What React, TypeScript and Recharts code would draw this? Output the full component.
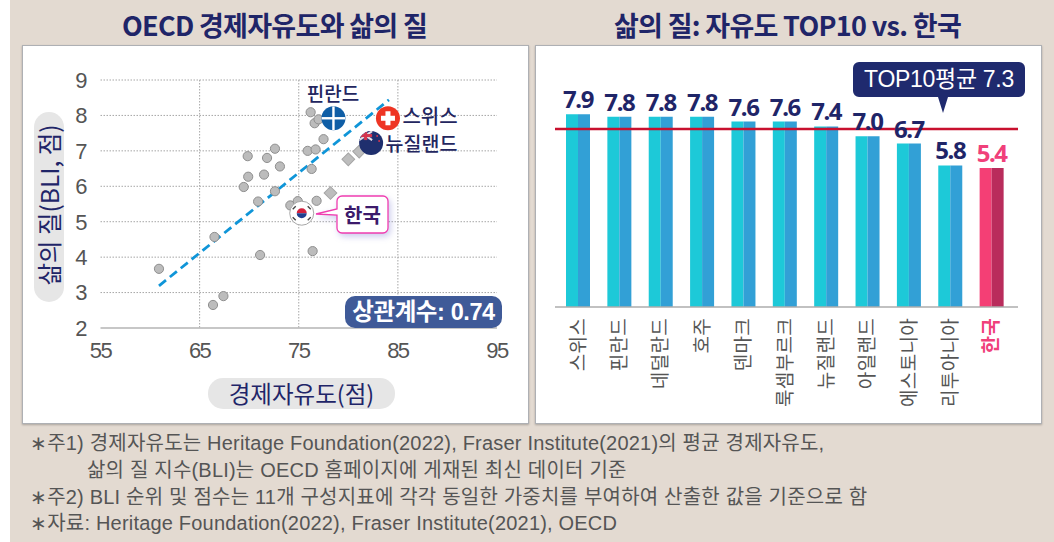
import React from 'react';
import {
  ScatterChart, Scatter, BarChart, Bar, XAxis, YAxis, CartesianGrid, Cell,
  LabelList, ReferenceLine,
} from 'recharts';

// 왼쪽 산점도
const dotPoints = [
  { x: 60.9, y: 3.67 }, { x: 66.5, y: 4.57 }, { x: 66.35, y: 2.65 }, { x: 67.4, y: 2.9 },
  { x: 69.45, y: 5.98 }, { x: 69.85, y: 6.85 }, { x: 69.9, y: 6.27 }, { x: 70.9, y: 5.57 },
  { x: 71.1, y: 4.06 }, { x: 71.5, y: 6.33 }, { x: 71.8, y: 6.8 }, { x: 72.6, y: 7.06 },
  { x: 72.6, y: 5.86 }, { x: 73.1, y: 6.56 }, { x: 74.15, y: 5.46 }, { x: 74.9, y: 5.58 },
  { x: 75.9, y: 7.0 }, { x: 76.2, y: 8.09 }, { x: 76.3, y: 6.49 }, { x: 76.4, y: 4.17 },
  { x: 76.6, y: 7.78 }, { x: 76.7, y: 7.04 }, { x: 76.8, y: 5.59 }, { x: 77.0, y: 7.89 },
  { x: 77.5, y: 7.33 },
];
const diamondPoints = [{ x: 78.2, y: 5.81 }, { x: 80.0, y: 6.76 }, { x: 81.1, y: 6.98 }];
const flagPoints = [
  { name: 'finland', x: 78.5, y: 7.92 },
  { name: 'swiss', x: 84.0, y: 7.92 },
  { name: 'newzealand', x: 82.3, y: 7.22 },
  { name: 'korea', x: 75.3, y: 5.24 },
];
const trendLine = [{ x: 60.9, y: 3.19 }, { x: 84.1, y: 8.44 }];
const xTicks = [55, 65, 75, 85, 95];
const yTicks = [2, 3, 4, 5, 6, 7, 8, 9];

// 오른쪽 막대
const countries = ['스위스', '핀란드', '네덜란드', '호주', '덴마크', '룩셈부르크', '뉴질랜드', '아일랜드', '에스토니아', '리투아니아', '한국'];
const barValues = [7.9, 7.8, 7.8, 7.8, 7.6, 7.6, 7.4, 7.0, 6.7, 5.8, 5.7];
const barLabels = ['7.9', '7.8', '7.8', '7.8', '7.6', '7.6', '7.4', '7.0', '6.7', '5.8', '5.4'];
const top10Average = 7.3;
const barData = countries.map((name, i) => ({ name, front: barValues[i], back: barValues[i] }));

const SANS = '"Liberation Sans", "Noto Sans CJK KR", sans-serif';
const KR = '"Noto Sans CJK KR", sans-serif';
const NAVY = '#1f2568';

const Dot = (props: any) => (
  <circle cx={props.cx} cy={props.cy} r={4.6} fill="#bcbcbc" stroke="#8f8f8f" strokeWidth={1} />
);

const Diamond = (props: any) => (
  <rect
    x={props.cx - 4.5} y={props.cy - 4.5} width={9} height={9}
    fill="#bdbdbd" stroke="#a5a5a5"
    transform={`rotate(45 ${props.cx} ${props.cy})`}
  />
);

const Flag = (props: any) => {
  const { cx, cy, payload } = props;
  const id = `clip-${payload.name}`;
  if (payload.name === 'finland') {
    return (
      <g>
        <clipPath id={id}><circle cx={cx} cy={cy} r={12} /></clipPath>
        <circle cx={cx} cy={cy} r={12} fill="#0f5ea6" />
        <g clipPath={`url(#${id})`} fill="#fff">
          <rect x={cx - 12} y={cy - 1.2} width={24} height={2.4} />
          <rect x={cx - 1.2} y={cy - 12} width={2.4} height={24} />
        </g>
      </g>
    );
  }
  if (payload.name === 'swiss') {
    return (
      <g>
        <circle cx={cx} cy={cy} r={12} fill="#ee3524" />
        <rect x={cx - 7} y={cy - 2.5} width={14} height={5} fill="#fff" />
        <rect x={cx - 2.5} y={cy - 7} width={5} height={14} fill="#fff" />
      </g>
    );
  }
  if (payload.name === 'newzealand') {
    return (
      <g>
        <clipPath id={id}><circle cx={cx} cy={cy} r={12} /></clipPath>
        <circle cx={cx} cy={cy} r={12} fill="#1f2f6e" />
        <g clipPath={`url(#${id})`}>
          <rect x={cx - 12} y={cy - 12} width={13} height={9} fill="#2d3f80" />
          <path d={`M${cx - 12} ${cy - 12}L${cx + 1} ${cy - 3}M${cx + 1} ${cy - 12}L${cx - 12} ${cy - 3}`} stroke="#e8e0e4" strokeWidth={2} />
          <rect x={cx - 12} y={cy - 9} width={13} height={3} fill="#d4354e" />
          <rect x={cx - 7} y={cy - 12} width={3} height={9} fill="#d4354e" />
          <circle cx={cx + 6} cy={cy - 7} r={1} fill="#d4354e" />
          <circle cx={cx + 8} cy={cy - 2} r={1} fill="#d4354e" />
        </g>
      </g>
    );
  }
  return (
    <g>
      <circle cx={cx} cy={cy} r={12} fill="#fff" stroke="#a8a8a8" />
      <path d={`M${cx - 5} ${cy}A5 5 0 0 1 ${cx + 5} ${cy}Z`} fill="#d4213d" />
      <path d={`M${cx - 5} ${cy}A5 5 0 0 0 ${cx + 5} ${cy}Z`} fill="#1f3f8f" />
      <g stroke="#444" strokeWidth={1.4}>
        <path d={`M${cx - 9} ${cy - 4}L${cx - 6} ${cy - 7}`} />
        <path d={`M${cx + 6} ${cy - 7}L${cx + 9} ${cy - 4}`} />
        <path d={`M${cx - 9} ${cy + 4}L${cx - 6} ${cy + 7}`} />
        <path d={`M${cx + 6} ${cy + 7}L${cx + 9} ${cy + 4}`} />
      </g>
    </g>
  );
};

const CountryTick = (props: any) => {
  const { x, y, payload } = props;
  const isKorea = payload.value === '한국';
  return (
    <text
      transform={`translate(${x + 7} ${y + 3}) rotate(-90)`}
      textAnchor="end"
      fontFamily={KR}
      fontSize={19}
      letterSpacing={0.3}
      fontWeight={isKorea ? 700 : 400}
      fill={isKorea ? '#f0407a' : '#555'}
    >
      {payload.value}
    </text>
  );
};

const BarLabel = (props: any) => {
  const { x, y, width, index } = props;
  return (
    <text
      x={x + width} y={y - 6}
      textAnchor="middle"
      fontFamily={'"Noto Sans", sans-serif'}
      fontSize={24}
      fontWeight={700}
      letterSpacing={-1.4}
      fill={index === countries.length - 1 ? '#f0407a' : NAVY}
    >
      {barLabels[index]}
    </text>
  );
};

const Label = ({ left, top, width, height, style, children }: any) => (
  <div
    style={{
      position: 'absolute', left, top, width, height, lineHeight: `${height}px`,
      textAlign: 'center', whiteSpace: 'nowrap', fontFamily: KR, ...style,
    }}
  >
    {children}
  </div>
);

const Note = ({ left, top, children }: any) => (
  <div
    style={{
      position: 'absolute', left, top, height: 26, lineHeight: '26px', whiteSpace: 'nowrap',
      fontFamily: SANS, fontSize: 20, color: '#555', letterSpacing: 0.2,
    }}
  >
    {children}
  </div>
);

const panelStyle: React.CSSProperties = {
  position: 'absolute', top: 45, height: 377, width: 505, background: '#fff',
  border: '1px solid #aeb0b4', boxShadow: '0 1px 2px rgba(0,0,0,.25)',
};

const App: React.FC = () => (
  <div style={{ position: 'absolute', left: 0, top: 0, width: 1054, height: 542, overflow: 'hidden', background: '#fff' }}>
    <div style={{ position: 'absolute', left: 10, top: 0, width: 1044, height: 542, background: '#e3dad1' }} />
    <div style={{ ...panelStyle, left: 22 }} />
    <div style={{ ...panelStyle, left: 535 }} />

    <Label left={22} top={7} width={505} height={36} style={{ fontSize: 27, fontWeight: 700, color: NAVY, letterSpacing: -0.7 }}>
      OECD 경제자유도와 삶의 질
    </Label>
    <Label left={535} top={7} width={505} height={36} style={{ fontSize: 27, fontWeight: 700, color: NAVY, letterSpacing: -0.7 }}>
      삶의 질: 자유도 TOP10 vs. 한국
    </Label>

    <div style={{ position: 'absolute', left: 0, top: 0 }}>
      <ScatterChart width={1054} height={542} margin={{ top: 80, right: 557, bottom: 184, left: 40.5 }}>
        <CartesianGrid stroke="#a6a6a6" strokeDasharray="1.5 1.5" verticalValues={[65, 75, 85]} horizontalValues={yTicks.slice(1)} />
        <XAxis
          type="number" dataKey="x" domain={[55, 95]} ticks={xTicks} interval={0} height={30}
          tickLine={false} tickMargin={8} axisLine={{ stroke: '#b5b5b5', strokeWidth: 1.5 }}
          tick={{ fill: '#555', fontSize: 22, fontFamily: SANS, letterSpacing: -1.5 }}
        />
        <YAxis
          type="number" dataKey="y" domain={[2, 9]} ticks={yTicks} interval={0} width={60}
          tickLine={false} tickMargin={7} axisLine={false}
          tick={{ fill: '#555', fontSize: 22, fontFamily: SANS }}
        />
        <Scatter data={dotPoints} shape={Dot} isAnimationActive={false} />
        <Scatter data={diamondPoints} shape={Diamond} isAnimationActive={false} />
        <ReferenceLine
          segment={trendLine} stroke="#0f95d8" strokeWidth={2.8} strokeDasharray="9 5" ifOverflow="visible"
        />
        <Scatter data={flagPoints} shape={Flag} isAnimationActive={false} />
      </ScatterChart>
    </div>

    <div style={{ position: 'absolute', left: 0, top: 0 }}>
      <BarChart width={1054} height={542} data={barData} barSize={12} barGap={0} margin={{ top: 63, right: 36, bottom: 135, left: 555 }}>
        <XAxis
          dataKey="name" interval={0} height={100} padding={{ left: 2, right: 6 }}
          tickLine={false} axisLine={{ stroke: '#adadad', strokeWidth: 1.5 }} tick={CountryTick}
        />
        <YAxis hide domain={[0, 10]} />
        <Bar dataKey="front" fill="#1dc9d8" isAnimationActive={false}>
          {barData.map((d) => <Cell key={d.name} fill={d.name === '한국' ? '#f43f75' : '#1dc9d8'} />)}
          <LabelList dataKey="front" content={BarLabel} />
        </Bar>
        <Bar dataKey="back" fill="#32a0d6" isAnimationActive={false}>
          {barData.map((d) => <Cell key={d.name} fill={d.name === '한국' ? '#b92c5c' : '#32a0d6'} />)}
        </Bar>
        <ReferenceLine y={top10Average} stroke="#c8102e" strokeWidth={2.5} />
      </BarChart>
    </div>

    {/* 축 제목 */}
    <div style={{ position: 'absolute', left: 34, top: 112, width: 30, height: 190, borderRadius: 15, background: '#e6e6e6' }} />
    <Label left={-46} top={190} width={190} height={30} style={{ transform: 'rotate(-90deg)', fontSize: 24.5, color: NAVY }}>
      삶의 질(BLI, 점)
    </Label>
    <Label left={208} top={378} width={187} height={31} style={{ borderRadius: 15, background: '#e6e6e6', fontSize: 23.5, color: NAVY }}>
      경제자유도(점)
    </Label>

    {/* 국가 라벨 */}
    <Label left={301} top={80} width={64} height={26} style={{ fontSize: 19, color: '#23265f', fontWeight: 500 }}>핀란드</Label>
    <Label left={400} top={103} width={60} height={26} style={{ fontSize: 20, color: '#23265f', fontWeight: 500 }}>스위스</Label>
    <Label left={384} top={130} width={75} height={26} style={{ fontSize: 19.5, color: '#23265f', fontWeight: 500 }}>뉴질랜드</Label>

    {/* 한국 말풍선 */}
    <svg width={90} height={50} style={{ position: 'absolute', left: 312, top: 190, overflow: 'visible' }}>
      <path
        d="M30 6h41a5 5 0 0 1 5 5v27a5 5 0 0 1-5 5h-41a5 5 0 0 1-5-5v-13L4 24l21-5v-8a5 5 0 0 1 5-5z"
        fill="#fff" stroke="#f03cb0" strokeWidth={1.3}
        style={{ filter: 'drop-shadow(2px 3px 3px rgba(90,90,200,.3))' }}
      />
    </svg>
    <Label left={337} top={196} width={51} height={37} style={{ fontSize: 20, fontWeight: 700, color: '#3c1a6b' }}>한국</Label>

    <Label left={345} top={296} width={157} height={32} style={{ borderRadius: 10, background: '#3f5a98', color: '#fff', fontFamily: SANS, fontSize: 23.5, fontWeight: 700, letterSpacing: -0.4 }}>
      상관계수: 0.74
    </Label>

    {/* TOP10 말풍선 */}
    <svg width={172} height={52} style={{ position: 'absolute', left: 853, top: 62 }}>
      <path d="M6 0h160a6 6 0 0 1 6 6v23a6 6 0 0 1-6 6h-71l-5 16-5-16h-79a6 6 0 0 1-6-6v-23a6 6 0 0 1 6-6z" fill="#1f2a6e" />
    </svg>
    <Label left={853} top={62} width={172} height={35} style={{ color: '#fff', fontFamily: SANS, fontSize: 23, letterSpacing: -0.3 }}>
      TOP10평균 7.3
    </Label>

    <Note left={30} top={430}>∗주1) 경제자유도는 Heritage Foundation(2022), Fraser Institute(2021)의 평균 경제자유도,</Note>
    <Note left={87} top={457}>삶의 질 지수(BLI)는 OECD 홈페이지에 게재된 최신 데이터 기준</Note>
    <Note left={30} top={484}>∗주2) BLI 순위 및 점수는 11개 구성지표에 각각 동일한 가중치를 부여하여 산출한 값을 기준으로 함</Note>
    <Note left={30} top={510}>∗자료:  Heritage Foundation(2022), Fraser Institute(2021), OECD</Note>
  </div>
);

export default App;
